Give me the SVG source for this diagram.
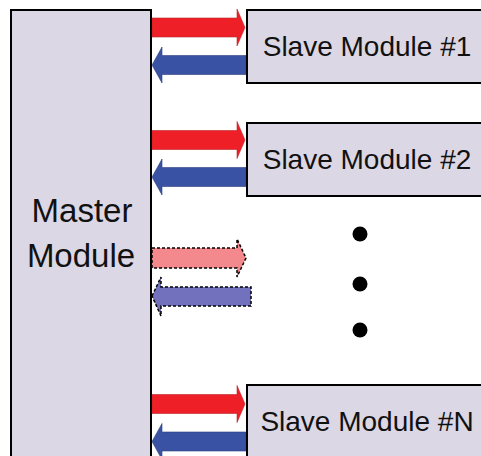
<svg xmlns="http://www.w3.org/2000/svg" width="481" height="456" viewBox="0 0 481 456">
  <style>
    .box { fill: #DCD7E5; stroke: #000; stroke-width: 2; }
    .lbl { font-family: "Liberation Sans", Arial, sans-serif; fill: #111; text-anchor: middle; }
    .slv { font-size: 28px; }
    .mst { font-size: 33px; }
    .red { fill: #EE1F26; stroke: #B8272C; stroke-width: 0.6; }
    .blue { fill: #3A52A4; stroke: #2E3F80; stroke-width: 0.6; }
    .pink { fill: #F3898C; stroke: #000; stroke-width: 1.5; stroke-dasharray: 3 2; }
    .lav { fill: #7271BD; stroke: #000; stroke-width: 1.5; stroke-dasharray: 3 2; }
  </style>
  <defs>
    <path id="toSlave" d="M0,-9.5 H85 V-18.5 L93,0 L85,18.5 V9.5 H0 Z"/>
    <path id="toMaster" d="M0,0 L10,-18 V-9.5 H94 V9.5 H10 V18 Z"/>
  </defs>
  <rect width="481" height="456" fill="#fff"/>
  <g id="connectors">
    <use href="#toSlave" class="red" transform="translate(152,27.5)"/>
    <use href="#toMaster" class="blue" transform="translate(152,65)"/>
    <use href="#toSlave" class="red" transform="translate(152,140)"/>
    <use href="#toMaster" class="blue" transform="translate(152,177)"/>
    <path class="pink" d="M152,248 H237 V239 L246,258 L237,277 V268 H152 Z"/>
    <path class="lav" d="M152,296 L161,277 V287 H251 V306 H161 V316 Z"/>
    <use href="#toSlave" class="red" transform="translate(152,404)"/>
    <use href="#toMaster" class="blue" transform="translate(152,441.5)"/>
  </g>
  <g id="master">
    <rect class="box" x="11" y="10" width="140" height="460"/>
    <text class="lbl mst" x="82" y="222">Master</text>
    <text class="lbl mst" x="81" y="267">Module</text>
  </g>
  <g id="slave1">
    <rect class="box" x="247" y="10" width="250" height="73"/>
    <text class="lbl slv" x="367" y="56">Slave Module #1</text>
  </g>
  <g id="slave2">
    <rect class="box" x="247" y="123" width="250" height="73"/>
    <text class="lbl slv" x="367" y="169">Slave Module #2</text>
  </g>
  <g id="slaveN">
    <rect class="box" x="247" y="385" width="250" height="90"/>
    <text class="lbl slv" x="367" y="431">Slave Module #N</text>
  </g>
  <g id="ellipsis" fill="#000">
    <circle cx="360" cy="234" r="7.5"/>
    <circle cx="360" cy="284" r="7.5"/>
    <circle cx="360" cy="330" r="7.5"/>
  </g>
</svg>
